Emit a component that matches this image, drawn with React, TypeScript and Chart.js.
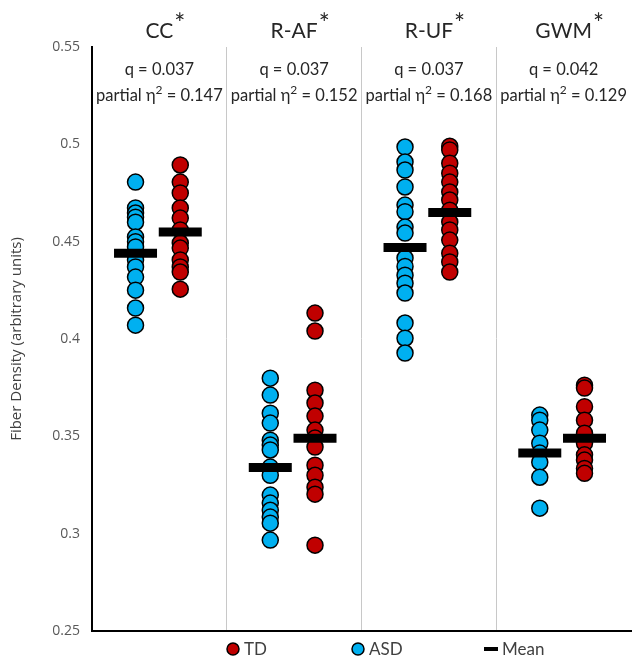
import { useEffect, useRef } from "react";
import { Chart, registerables } from "chart.js";
Chart.register(...registerables);

const groups = ["CC", "R-AF", "R-UF", "GWM"];
const qValues = ["0.037", "0.037", "0.037", "0.042"];
const etaValues = ["0.147", "0.152", "0.168", "0.129"];

const asdCC = [0.4806, 0.4673, 0.4647, 0.4626, 0.46, 0.4524, 0.45, 0.4473, 0.4406, 0.437, 0.4318, 0.4251, 0.4159, 0.4071];
const tdCC = [0.4894, 0.4806, 0.475, 0.4673, 0.4621, 0.456, 0.4493, 0.4467, 0.4406, 0.437, 0.4344, 0.4256];
const asdRAF = [0.3799, 0.3712, 0.3619, 0.3568, 0.348, 0.3455, 0.343, 0.3342, 0.33, 0.3198, 0.3157, 0.312, 0.3085, 0.3054, 0.2967];
const tdRAF = [0.4133, 0.4041, 0.3737, 0.3671, 0.3604, 0.3532, 0.3491, 0.3445, 0.3352, 0.33, 0.3239, 0.3203, 0.2941];
const asdRUF = [0.4986, 0.4909, 0.4868, 0.4781, 0.4688, 0.4654, 0.4575, 0.4544, 0.4416, 0.4373, 0.4328, 0.4287, 0.4236, 0.4082, 0.4004, 0.3928];
const tdRUF = [0.499, 0.4971, 0.4903, 0.4852, 0.4806, 0.4755, 0.4714, 0.4662, 0.4601, 0.456, 0.4508, 0.4441, 0.4396, 0.4344];
const asdGWM = [0.3609, 0.3583, 0.3532, 0.3465, 0.3414, 0.3367, 0.329, 0.3131];
const tdGWM = [0.3763, 0.3748, 0.3652, 0.3583, 0.3516, 0.3465, 0.3405, 0.3378, 0.3335, 0.331];
const asdMeans = [0.444, 0.334, 0.447, 0.3415];
const tdMeans = [0.455, 0.349, 0.465, 0.349];

const asdSeries = [asdCC, asdRAF, asdRUF, asdGWM];
const tdSeries = [tdCC, tdRAF, tdRUF, tdGWM];
const yTicks = [0.25, 0.3, 0.35, 0.4, 0.45, 0.5, 0.55];

const ASD_COLOR = "#00b0f0";
const TD_COLOR = "#c00000";
const ASD_OFF = 0.323;
const TD_OFF = 0.655;
const TEXT = "#262626";

const toPoints = (series: number[][], off: number) =>
  series.flatMap((vals, i) => vals.map((v) => ({ x: i + off, y: v })));

const textPlugin = {
  id: "groupText",
  afterDraw(chart: any) {
    const { ctx, chartArea, scales } = chart;
    const x = scales.x;
    ctx.save();
    ctx.fillStyle = TEXT;
    ctx.textBaseline = "alphabetic";
    groups.forEach((g, i) => {
      const cx = x.getPixelForValue(i + 0.5);
      ctx.font = "21px Lato";
      const w = ctx.measureText(g).width;
      ctx.textAlign = "center";
      ctx.fillText(g, cx, chartArea.top - 9);
      ctx.font = "26px Lato";
      ctx.textAlign = "left";
      ctx.fillText("*", cx + w / 2 + 1, chartArea.top - 14);
      ctx.font = "16.5px Lato";
      ctx.textAlign = "center";
      ctx.fillText("q = " + qValues[i], cx, chartArea.top + 28);
      const a = "partial \u03b7";
      const b = " = " + etaValues[i];
      ctx.font = "16.5px Lato";
      const wa = ctx.measureText(a).width;
      const wb = ctx.measureText(b).width;
      ctx.font = "12px Lato";
      const ws = ctx.measureText("2").width;
      const total = wa + ws + wb;
      let sx = cx - total / 2;
      ctx.textAlign = "left";
      ctx.font = "16.5px Lato";
      ctx.fillText(a, sx, chartArea.top + 54);
      sx += wa;
      ctx.font = "12px Lato";
      ctx.fillText("2", sx, chartArea.top + 47);
      sx += ws;
      ctx.font = "16.5px Lato";
      ctx.fillText(b, sx, chartArea.top + 54);
    });

    const ly = chartArea.bottom + 18;
    ctx.font = "17px Lato";
    ctx.textBaseline = "middle";
    const items = [
      { label: "TD", color: TD_COLOR, kind: "circle", cx: 233 },
      { label: "ASD", color: ASD_COLOR, kind: "circle", cx: 358 },
      { label: "Mean", color: "#000", kind: "line", cx: 491 },
    ];
    items.forEach((it) => {
      if (it.kind === "circle") {
        ctx.beginPath();
        ctx.arc(it.cx, ly, 6, 0, Math.PI * 2);
        ctx.fillStyle = it.color;
        ctx.fill();
        ctx.lineWidth = 1.5;
        ctx.strokeStyle = "#000";
        ctx.stroke();
      } else {
        ctx.fillStyle = "#000";
        ctx.fillRect(it.cx - 7, ly - 2, 14, 4);
      }
      ctx.fillStyle = "#404040";
      ctx.textAlign = "left";
      ctx.fillText(it.label, it.cx + 11, ly + 1);
    });
    ctx.restore();
  },
};

export default function App() {
  const ref = useRef<HTMLCanvasElement>(null);
  useEffect(() => {
    const meanData = [
      ...asdMeans.map((v, i) => ({ x: i + ASD_OFF, y: v })),
      ...tdMeans.map((v, i) => ({ x: i + TD_OFF, y: v })),
    ];
    const chart = new Chart(ref.current!, {
      type: "scatter",
      data: {
        datasets: [
          {
            label: "Mean",
            data: meanData,
            pointStyle: "line",
            pointRadius: 21.5,
            pointHoverRadius: 21.5,
            pointBorderWidth: 9,
            pointHoverBorderWidth: 9,
            pointBorderColor: "#000",
            pointBackgroundColor: "#000",
          },
          {
            label: "TD",
            data: toPoints(tdSeries, TD_OFF),
            pointRadius: 8,
            pointHoverRadius: 8,
            pointBorderWidth: 1.5,
            pointHoverBorderWidth: 1.5,
            pointBackgroundColor: TD_COLOR,
            pointBorderColor: "#000",
          },
          {
            label: "ASD",
            data: toPoints(asdSeries, ASD_OFF),
            pointRadius: 8,
            pointHoverRadius: 8,
            pointBorderWidth: 1.5,
            pointHoverBorderWidth: 1.5,
            pointBackgroundColor: ASD_COLOR,
            pointBorderColor: "#000",
          },
        ],
      },
      options: {
        animation: false,
        responsive: false,
        maintainAspectRatio: false,
        layout: { autoPadding: false, padding: { top: 47, right: 6, bottom: 26, left: 0 } },
        plugins: { legend: { display: false }, tooltip: { enabled: false } },
        scales: {
          x: {
            type: "linear",
            min: 0,
            max: 4,
            ticks: { display: false, stepSize: 1 },
            grid: {
              drawTicks: false,
              lineWidth: 1,
              color: (c: any) => (c.tick && c.tick.value > 0 && c.tick.value < 4 ? "#c8c8c8" : "rgba(0,0,0,0)"),
            },
            border: { display: true, color: "#000", width: 2 },
            afterFit: (s: any) => {
              s.height = 0;
            },
          },
          y: {
            type: "linear",
            min: 0.25,
            max: 0.55,
            afterBuildTicks: (s: any) => {
              s.ticks = yTicks.map((v) => ({ value: v }));
            },
            ticks: {
              padding: 12,
              color: "#595959",
              font: { family: "Open Sans", size: 14 },
              callback: (v: any) => String(Number(Number(v).toFixed(2))),
            },
            grid: { drawTicks: false, color: "rgba(0,0,0,0)" },
            border: { display: true, color: "#000", width: 2 },
            title: {
              display: true,
              text: "Fiber Density (arbitrary units)",
              color: "#404040",
              font: { family: "Open Sans", size: 15 },
              padding: { top: 8, bottom: 0 },
            },
            afterFit: (s: any) => {
              s.width = 92;
            },
          },
        },
      },
      plugins: [textPlugin],
    });
    return () => chart.destroy();
  }, []);
  return (
    <div style={{ position: "absolute", left: 0, top: 0, width: 637, height: 657, overflow: "hidden", background: "#fff" }}>
      <canvas ref={ref} width={637} height={657} style={{ display: "block", width: 637, height: 657 }} />
    </div>
  );
}
